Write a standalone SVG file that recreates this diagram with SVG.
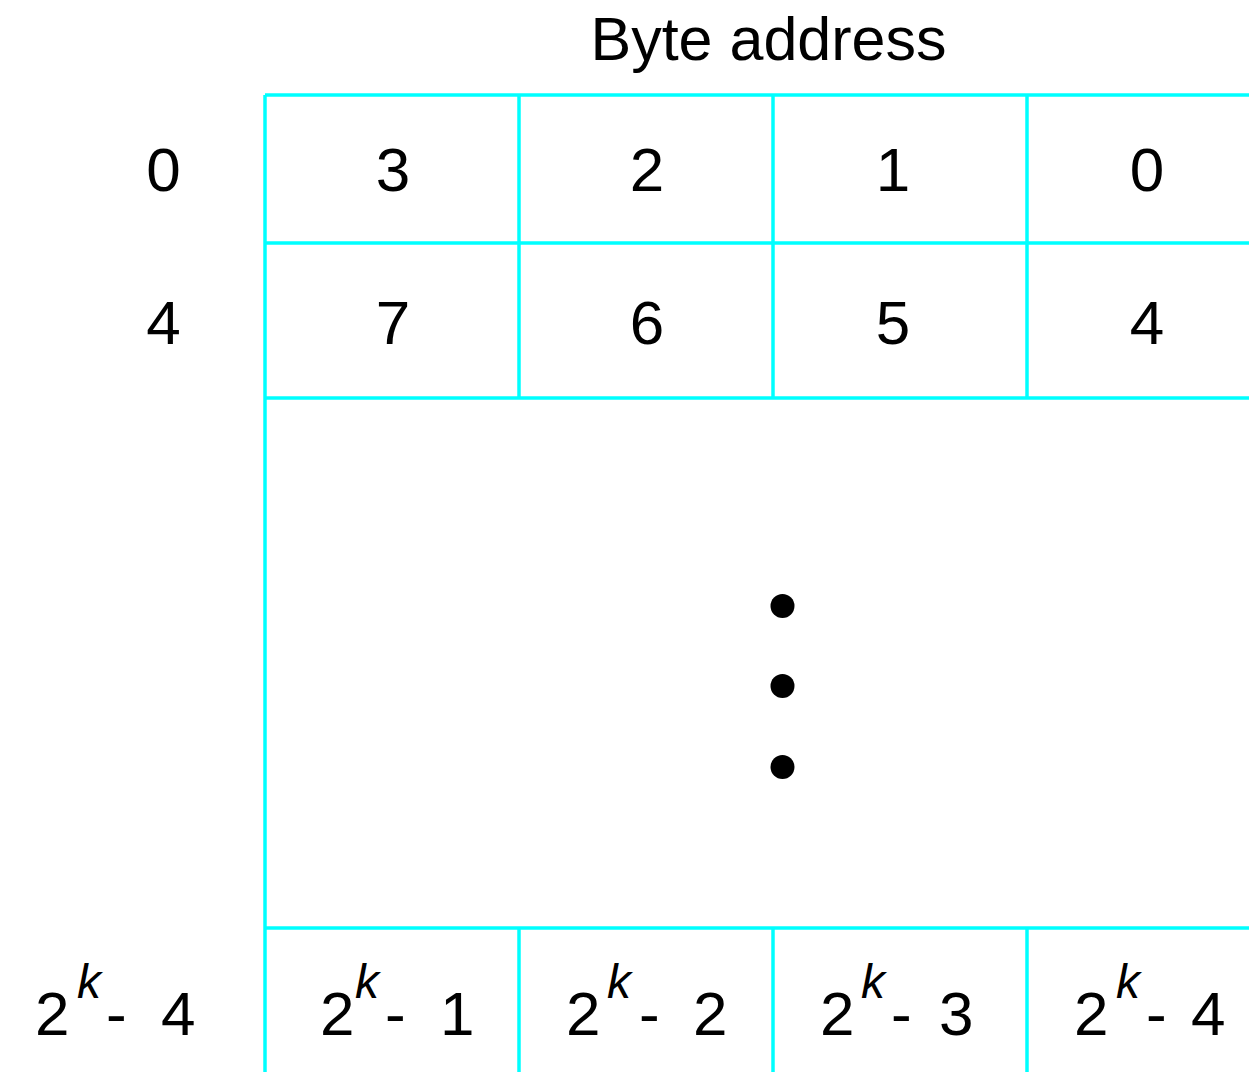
<svg xmlns="http://www.w3.org/2000/svg" width="1249" height="1072" viewBox="0 0 1249 1072">
  <style>
    .grid line { stroke: #00FFFF; stroke-width: 3.5; fill: none; }
    text { font-family: "Liberation Sans", Arial, sans-serif; font-size: 62px; fill: #000; }
    .mid { text-anchor: middle; }
    .title { font-size: 61px; }
    .sup { font-size: 48px; font-style: italic; }
  </style>
  <rect width="1249" height="1072" fill="#fff"/>

  <!-- title -->
  <g id="title">
    <text x="768.5" y="60" class="mid title">Byte address</text>
  </g>

  <!-- memory grid lines -->
  <g id="grid" class="grid">
    <line x1="265" y1="95" x2="1249" y2="95"/>
    <line x1="265" y1="243" x2="1249" y2="243"/>
    <line x1="265" y1="398" x2="1249" y2="398"/>
    <line x1="265" y1="928" x2="1249" y2="928"/>
    <line x1="265" y1="95" x2="265" y2="1072"/>
    <line x1="519" y1="95" x2="519" y2="398"/>
    <line x1="773" y1="95" x2="773" y2="398"/>
    <line x1="1027" y1="95" x2="1027" y2="398"/>
    <line x1="519" y1="928" x2="519" y2="1072"/>
    <line x1="773" y1="928" x2="773" y2="1072"/>
    <line x1="1027" y1="928" x2="1027" y2="1072"/>
  </g>

  <!-- word addresses -->
  <g id="word-0"><text x="163.5" y="191" class="mid">0</text></g>
  <g id="word-4"><text x="163.5" y="344" class="mid">4</text></g>
  <g id="word-last">
    <text><tspan x="35" y="1035">2</tspan><tspan x="77" y="998" class="sup">k</tspan><tspan x="106" y="1035">-</tspan><tspan x="161" y="1035">4</tspan></text>
  </g>

  <!-- row 0 bytes -->
  <g id="byte-3"><text x="393" y="191" class="mid">3</text></g>
  <g id="byte-2"><text x="647" y="191" class="mid">2</text></g>
  <g id="byte-1"><text x="893" y="191" class="mid">1</text></g>
  <g id="byte-0"><text x="1147" y="191" class="mid">0</text></g>

  <!-- row 1 bytes -->
  <g id="byte-7"><text x="393" y="344" class="mid">7</text></g>
  <g id="byte-6"><text x="647" y="344" class="mid">6</text></g>
  <g id="byte-5"><text x="893" y="344" class="mid">5</text></g>
  <g id="byte-4"><text x="1147" y="344" class="mid">4</text></g>

  <!-- ellipsis -->
  <g id="ellipsis" fill="#000">
    <circle cx="782.5" cy="606" r="12"/>
    <circle cx="782.5" cy="686" r="12"/>
    <circle cx="782.5" cy="767" r="12"/>
  </g>

  <!-- last row bytes -->
  <g id="byte-last-1">
    <text><tspan x="320" y="1035">2</tspan><tspan x="355" y="998" class="sup">k</tspan><tspan x="385" y="1035">-</tspan><tspan x="440" y="1035">1</tspan></text>
  </g>
  <g id="byte-last-2">
    <text><tspan x="566" y="1035">2</tspan><tspan x="607" y="998" class="sup">k</tspan><tspan x="639" y="1035">-</tspan><tspan x="693" y="1035">2</tspan></text>
  </g>
  <g id="byte-last-3">
    <text><tspan x="820" y="1035">2</tspan><tspan x="861" y="998" class="sup">k</tspan><tspan x="891" y="1035">-</tspan><tspan x="939" y="1035">3</tspan></text>
  </g>
  <g id="byte-last-4">
    <text><tspan x="1074" y="1035">2</tspan><tspan x="1116" y="998" class="sup">k</tspan><tspan x="1146" y="1035">-</tspan><tspan x="1191" y="1035">4</tspan></text>
  </g>
</svg>
